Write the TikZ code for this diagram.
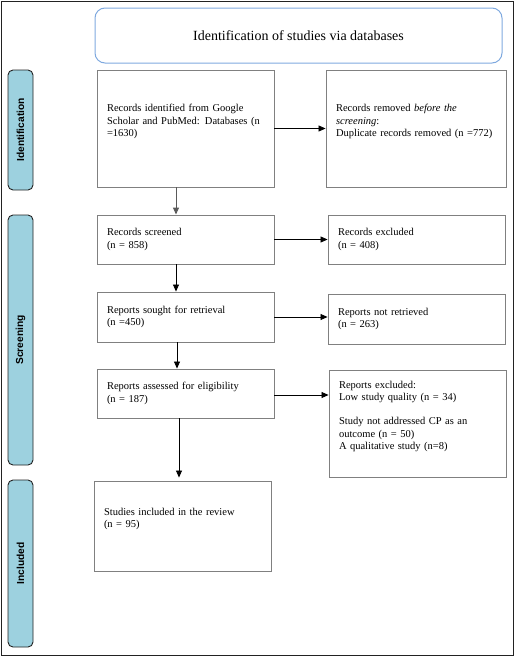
\documentclass[tikz,border=0pt]{standalone}
\usepackage{fontspec}
\setmainfont{Liberation Serif}
\newfontfamily\labelfont{Liberation Sans}
\usetikzlibrary{arrows.meta,positioning}
\definecolor{boxgray}{HTML}{808080}
\definecolor{framec}{HTML}{222222}
\definecolor{titleblue}{HTML}{7FA9DF}
\definecolor{sidefill}{HTML}{9DD1DF}
\tikzset{
  flowbox/.style={draw=boxgray, line width=0.9pt, rectangle, inner xsep=10pt, inner ysep=0pt,
    align=left, font=\fontsize{10.5}{12.6}\selectfont},
  sidelabel/.style={draw=framec, fill=sidefill, line width=0.9pt, rounded corners=5pt,
    minimum width=25pt, inner sep=0pt},
  sidetext/.style={rotate=90, font=\labelfont\bfseries\fontsize{10.2}{12}\selectfont},
  arr/.style={-{Triangle[length=7pt,width=6pt]}, line width=0.8pt, black},
  garr/.style={-{Triangle[length=7pt,width=6pt]}, line width=1pt, boxgray!70!black}
}
\begin{document}
\begin{tikzpicture}[x=1pt,y=-1pt]
\useasboundingbox (0,0) rectangle (514,656);
\draw[framec, line width=1pt] (1,1) rectangle (513,655);

\node[draw=titleblue, line width=1pt, rounded corners=10pt, minimum width=407pt, minimum height=55pt,
  font=\fontsize{14}{16}\selectfont] (title) at (298.5,35.5) {Identification of studies via databases};

\node[sidelabel, minimum height=120pt] (l1) at (20.5,130) {};
\node[sidetext] (t1) at (l1.center) {Identification};
\node[sidelabel, minimum height=250pt] (l2) at (20.5,340) {};
\node[sidetext] (t2) at (l2.center) {Screening};
\node[sidelabel, minimum height=167pt] (l3) at (20.5,563.5) {};
\node[sidetext] (t3) at (l3.center) {Included};

\node[flowbox, text width=157pt, minimum height=117pt] (b1) at (185.5,128.5)
  {Records identified from Google\\Scholar and PubMed: Databases (n\\=1630)\\\strut};
\node[flowbox, text width=160pt, minimum height=117pt] (b2) at (416,128.5)
  {Records removed \textit{before the}\\\textit{screening}:\\Duplicate records removed (n =772)\\\strut};
\node[flowbox, text width=157pt, minimum height=49pt] (b3) at (185.5,239.5)
  {Records screened\\(n = 858)};
\node[flowbox, text width=157pt, minimum height=49pt] (b4) at (416.5,239.5)
  {Records excluded\\(n = 408)};
\node[flowbox, text width=157pt, minimum height=50pt] (b5) at (185.5,317)
  {Reports sought for retrieval\\(n =450)};
\node[flowbox, text width=157pt, minimum height=50pt] (b6) at (416.5,319)
  {Reports not retrieved\\(n = 263)};
\node[flowbox, text width=157pt, minimum height=49pt] (b7) at (185.5,393.5)
  {Reports assessed for eligibility\\(n = 187)};
\node[flowbox, text width=157pt, minimum height=107pt] (b8) at (417.5,423.5)
  {Reports excluded:\\Low study quality (n = 34)\\[11pt]Study not addressed CP as an\\outcome (n = 50)\\A qualitative study (n=8)\\\strut};
\node[flowbox, text width=157pt, minimum height=90pt] (b9) at (182.5,526)
  {Studies included in the review\\(n = 95)\\\strut};

\draw[arr] (b1.east) -- (b2.west);
\draw[garr] ([xshift=-9.5pt]b1.south) -- ([xshift=-9.5pt]b3.north);
\draw[arr] (b3.east) -- (b4.west);
\draw[arr] ([xshift=-9.5pt]b3.south) -- ([xshift=-9.5pt]b5.north);
\draw[arr] (b5.east) -- (b5.east -| b6.west);
\draw[arr] ([xshift=-8.5pt]b5.south) -- ([xshift=-8.5pt]b7.north);
\draw[arr] ([yshift=-1.5pt]b7.east) -- ([yshift=-1.5pt]b7.east -| b8.west);
\draw[arr, shorten >=3pt] ([xshift=-6.5pt]b7.south) -- ([xshift=-6.5pt]b7.south |- b9.north);
\end{tikzpicture}
\end{document}
